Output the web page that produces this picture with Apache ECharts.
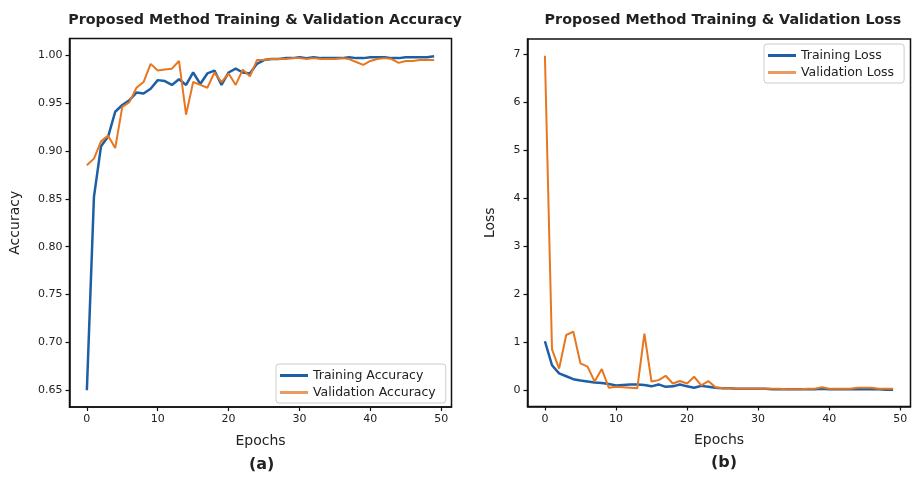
<!DOCTYPE html>
<html>
<head>
<meta charset="utf-8">
<script src="https://cdn.jsdelivr.net/npm/echarts@6/dist/echarts.min.js"></script>
<style>html,body{margin:0;padding:0;background:#fff}#c{width:912px;height:478px}</style>
</head>
<body>
<div id="c"></div>
<script>
var epochs = [0,1,2,3,4,5,6,7,8,9,10,11,12,13,14,15,16,17,18,19,20,21,22,23,24,25,26,27,28,29,30,31,32,33,34,35,36,37,38,39,40,41,42,43,44,45,46,47,48,49];
var trainAcc = [0.650,0.852,0.905,0.915,0.941,0.948,0.953,0.961,0.960,0.965,0.974,0.973,0.969,0.975,0.969,0.982,0.970,0.981,0.984,0.969,0.982,0.986,0.982,0.981,0.991,0.995,0.996,0.996,0.997,0.997,0.998,0.997,0.998,0.997,0.997,0.997,0.997,0.998,0.997,0.997,0.998,0.998,0.998,0.997,0.997,0.998,0.998,0.998,0.998,0.999];
var valAcc = [0.885,0.892,0.910,0.916,0.903,0.946,0.951,0.966,0.972,0.991,0.984,0.985,0.986,0.994,0.938,0.972,0.969,0.966,0.982,0.972,0.981,0.969,0.985,0.978,0.995,0.995,0.996,0.996,0.996,0.997,0.997,0.996,0.997,0.996,0.996,0.996,0.997,0.996,0.993,0.990,0.994,0.996,0.997,0.996,0.992,0.994,0.994,0.995,0.995,0.995];
var trainLoss = [1.02,0.52,0.35,0.29,0.23,0.20,0.18,0.16,0.15,0.13,0.10,0.11,0.12,0.12,0.11,0.08,0.12,0.07,0.08,0.12,0.08,0.05,0.09,0.07,0.05,0.04,0.04,0.03,0.03,0.03,0.03,0.03,0.02,0.02,0.02,0.02,0.02,0.02,0.02,0.03,0.02,0.02,0.02,0.02,0.02,0.02,0.02,0.02,0.01,0.01];
var valLoss = [6.97,0.85,0.45,1.15,1.22,0.56,0.49,0.18,0.44,0.05,0.07,0.06,0.05,0.04,1.18,0.18,0.21,0.30,0.14,0.19,0.14,0.28,0.10,0.19,0.06,0.04,0.04,0.03,0.03,0.03,0.03,0.03,0.03,0.03,0.02,0.02,0.02,0.03,0.03,0.06,0.03,0.03,0.03,0.03,0.05,0.05,0.05,0.03,0.03,0.03];
var xTicks = [0,10,20,30,40,50];
var accTicks = [0.65,0.70,0.75,0.80,0.85,0.90,0.95,1.00];
var lossTicks = [0,1,2,3,4,5,6,7];

function pairs(ys){ return epochs.map(function(e,i){ return [e, ys[i]]; }); }

var FONT = 'DejaVu Sans';
var BLUE = '#1c5fa6', ORANGE = '#e8761e', TXT = '#222';

function xAx(idx){
  return {
    type:'value', gridIndex:idx, min:-2.45, max:51.45,
    name:'Epochs', nameLocation:'middle', nameGap:27,
    nameTextStyle:{fontFamily:FONT, fontSize:14, color:TXT},
    axisLine:{show:true, onZero:false, lineStyle:{color:'#111', width:1.5}}, splitLine:{show:false},
    axisTick:{show:true, length:4, lineStyle:{color:'#111', width:1.2}, customValues:xTicks},
    axisLabel:{fontFamily:FONT, fontSize:11, color:TXT, margin:7, customValues:xTicks}
  };
}
function yAx(idx, name, mn, mx, ticks, fmt, gap){
  return {
    type:'value', gridIndex:idx, min:mn, max:mx,
    name:name, nameLocation:'middle', nameGap:gap,
    nameTextStyle:{fontFamily:FONT, fontSize:14, color:TXT},
    axisLine:{show:true, onZero:false, lineStyle:{color:'#111', width:1.5}}, splitLine:{show:false},
    axisTick:{show:true, length:4, lineStyle:{color:'#111', width:1.2}, customValues:ticks},
    axisLabel:{fontFamily:FONT, fontSize:11, color:TXT, margin:7, customValues:ticks, formatter:fmt}
  };
}

var chart = echarts.init(document.getElementById('c'), null, {renderer:'canvas'});
chart.setOption({
  animation:false,
  backgroundColor:'#fff',
  title:[
    {text:'Proposed Method Training & Validation Accuracy', left:260, top:8, textAlign:'center',
     textStyle:{fontFamily:FONT, fontSize:14.3, fontWeight:'bold', color:TXT}},
    {text:'Proposed Method Training & Validation Loss', left:718, top:8, textAlign:'center',
     textStyle:{fontFamily:FONT, fontSize:14.3, fontWeight:'bold', color:TXT}}
  ],
  grid:[
    {left:69.5, top:38.5, width:382, height:368.5, show:true, borderColor:'#111', borderWidth:1.5, backgroundColor:'transparent'},
    {left:527.5, top:39, width:383, height:367.5, show:true, borderColor:'#111', borderWidth:1.5, backgroundColor:'transparent'}
  ],
  xAxis:[xAx(0), xAx(1)],
  yAxis:[
    yAx(0,'Accuracy',0.6325,1.0175,accTicks,function(v){return v.toFixed(2);},47),
    yAx(1,'Loss',-0.34,7.32,lossTicks,function(v){return String(Math.round(v));},30)
  ],
  legend:[
    {data:['Training Accuracy','Validation Accuracy'], orient:'vertical', left:276, top:364,
     icon:'rect', itemWidth:28, itemHeight:3, itemGap:4, padding:[5,10,4,4], borderColor:'#ccc', borderWidth:1, borderRadius:3,
     backgroundColor:'rgba(255,255,255,0.8)',
     textStyle:{fontFamily:FONT, fontSize:12.5, color:TXT}},
    {data:['Training Loss','Validation Loss'], orient:'vertical', left:764, top:44,
     icon:'rect', itemWidth:28, itemHeight:3, itemGap:4, padding:[5,10,4,4], borderColor:'#ccc', borderWidth:1, borderRadius:3,
     backgroundColor:'rgba(255,255,255,0.8)',
     textStyle:{fontFamily:FONT, fontSize:12.5, color:TXT}}
  ],
  series:[
    {name:'Training Accuracy', type:'line', xAxisIndex:0, yAxisIndex:0, data:pairs(trainAcc), symbol:'none',
     lineStyle:{color:BLUE, width:2.5}, itemStyle:{color:BLUE}, z:3},
    {name:'Validation Accuracy', type:'line', xAxisIndex:0, yAxisIndex:0, data:pairs(valAcc), symbol:'none',
     lineStyle:{color:ORANGE, width:2}, itemStyle:{color:'#eb9a66'}, z:4},
    {name:'Training Loss', type:'line', xAxisIndex:1, yAxisIndex:1, data:pairs(trainLoss), symbol:'none',
     lineStyle:{color:BLUE, width:2.5}, itemStyle:{color:BLUE}, z:3},
    {name:'Validation Loss', type:'line', xAxisIndex:1, yAxisIndex:1, data:pairs(valLoss), symbol:'none',
     lineStyle:{color:ORANGE, width:2}, itemStyle:{color:'#eb9a66'}, z:4}
  ],
  graphic:[
    {type:'text', left:249, top:457, style:{text:'(a)', fontFamily:FONT, fontSize:16, fontWeight:'bold', fill:TXT}},
    {type:'text', left:711, top:455, style:{text:'(b)', fontFamily:FONT, fontSize:16, fontWeight:'bold', fill:TXT}}
  ]
});
</script>
</body>
</html>
